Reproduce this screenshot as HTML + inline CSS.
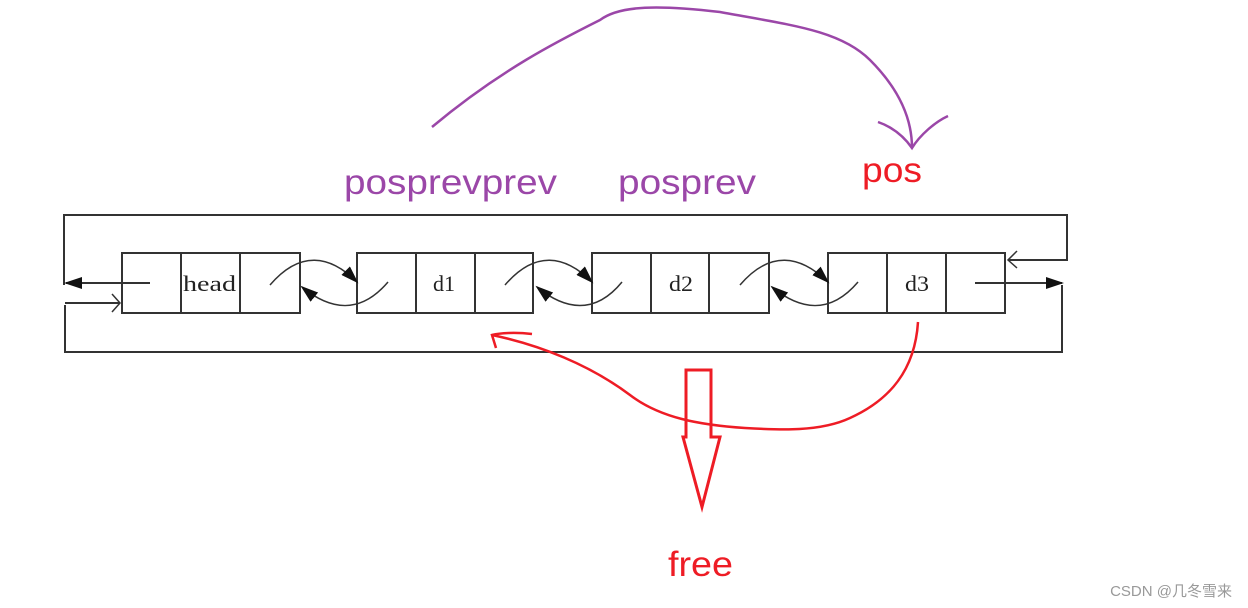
<!DOCTYPE html>
<html><head><meta charset="utf-8"><style>
html,body{margin:0;padding:0;background:#fff;}
svg{display:block}
</style></head><body>
<svg width="1248" height="608" viewBox="0 0 1248 608" xmlns="http://www.w3.org/2000/svg">
<defs>
<marker id="ab" markerWidth="18" markerHeight="12" refX="16" refY="6" orient="auto" markerUnits="userSpaceOnUse"><path d="M0,0 L18,6 L0,12 z" fill="#111"/></marker>
</defs>
<g stroke="#333" stroke-width="2" fill="none">
<rect x="122" y="253" width="178" height="60"/><line x1="181" y1="253" x2="181" y2="313"/><line x1="240" y1="253" x2="240" y2="313"/>
<rect x="357" y="253" width="176" height="60"/><line x1="416" y1="253" x2="416" y2="313"/><line x1="475" y1="253" x2="475" y2="313"/>
<rect x="592" y="253" width="177" height="60"/><line x1="651" y1="253" x2="651" y2="313"/><line x1="709" y1="253" x2="709" y2="313"/>
<rect x="828" y="253" width="177" height="60"/><line x1="887" y1="253" x2="887" y2="313"/><line x1="946" y1="253" x2="946" y2="313"/>
<polyline points="64,285 64,215 1067,215 1067,260 1008,260"/>
<polyline points="65,305 65,352 1062,352 1062,285"/>
<line x1="150" y1="283" x2="66" y2="283" marker-end="url(#ab)"/>
<line x1="65" y1="303" x2="120" y2="303"/>
<polyline points="112,294 120,303 112,312" stroke-width="1.5"/>
<polyline points="1017,251 1008,260 1017,268" stroke-width="1.5"/>
<line x1="975" y1="283" x2="1062" y2="283" marker-end="url(#ab)"/>
<g stroke-width="1.5">
<path d="M270,285 C300,250 330,255 357,282" marker-end="url(#ab)"/>
<path d="M388,282 C360,315 330,310 302,287" marker-end="url(#ab)"/>
<path d="M505,285 C535,250 565,255 592,282" marker-end="url(#ab)"/>
<path d="M622,282 C595,315 565,310 537,287" marker-end="url(#ab)"/>
<path d="M740,285 C770,250 800,255 828,282" marker-end="url(#ab)"/>
<path d="M858,282 C830,315 800,310 772,287" marker-end="url(#ab)"/>
</g>
</g>
<g font-family="Liberation Serif, serif" font-size="22" fill="#222">
<text x="183" y="291" textLength="53" lengthAdjust="spacingAndGlyphs">head</text>
<text x="433" y="291" textLength="22" lengthAdjust="spacingAndGlyphs">d1</text>
<text x="669" y="291" textLength="24" lengthAdjust="spacingAndGlyphs">d2</text>
<text x="905" y="291" textLength="24" lengthAdjust="spacingAndGlyphs">d3</text>
</g>
<g stroke="#9b47a8" stroke-width="2.5" fill="none">
<path d="M432,127 C500,70 560,40 600,20 C620,5 660,5 720,12 C790,25 840,30 870,60 C900,90 912,120 912,148"/>
<path d="M878,122 C895,128 905,138 912,148 C920,135 935,122 948,116"/>
</g>
<g font-family="Liberation Sans, sans-serif" font-size="35" fill="#9b47a8">
<text x="344" y="194" textLength="213" lengthAdjust="spacingAndGlyphs">posprevprev</text>
<text x="618" y="194" textLength="138" lengthAdjust="spacingAndGlyphs">posprev</text>
</g>
<text x="862" y="182" font-family="Liberation Sans, sans-serif" font-size="35" fill="#ee1c25" textLength="60" lengthAdjust="spacingAndGlyphs">pos</text>
<g stroke="#ee1c25" stroke-width="2.5" fill="none">
<path d="M918,322 C915,370 890,400 850,418 C820,432 780,430 745,428 C700,425 660,418 630,395 C590,365 540,345 492,335"/>
<path d="M532,334 C515,332 500,333 492,335 L496,348"/>
<path d="M686,370 L711,370 L711,437 L720,437 L702,507 L683,437 L686,437 Z" stroke-width="3"/>
</g>
<text x="668" y="576" font-family="Liberation Sans, sans-serif" font-size="35" fill="#ee1c25" textLength="65" lengthAdjust="spacingAndGlyphs">free</text>
<text x="1232" y="596" text-anchor="end" font-family="Liberation Sans, Noto Sans CJK SC, sans-serif" font-size="15" fill="#999">CSDN @几冬雪来</text>
</svg>
</body></html>
